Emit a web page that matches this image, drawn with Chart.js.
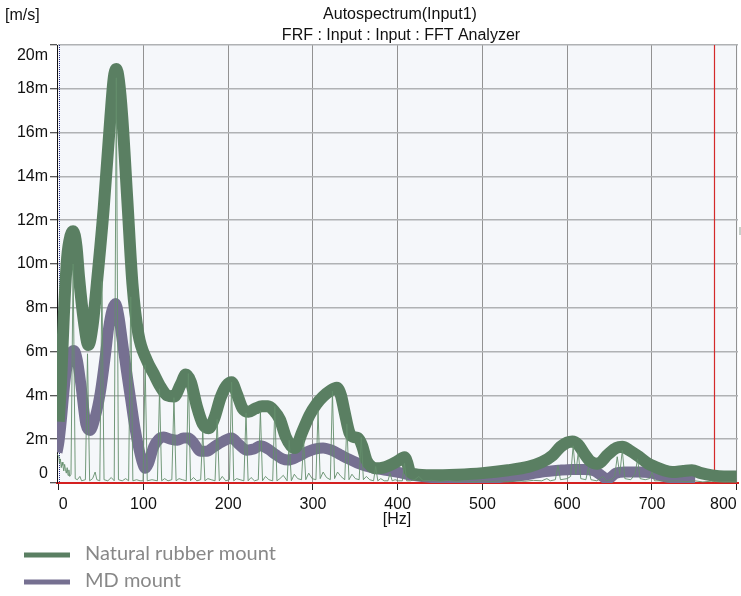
<!DOCTYPE html>
<html>
<head>
<meta charset="utf-8">
<script src="https://cdn.jsdelivr.net/npm/chart.js@4.4.1/dist/chart.umd.min.js"></script>
<style>
  html, body { margin: 0; padding: 0; background: #fff; }
  #chart { display: block; }
</style>
</head>
<body>
<canvas id="chart" width="741" height="596"></canvas>
<script>
// values: [Hz, m/s (milli)]
var naturalRubber = [
  [0,2.8],[3,4.8],[6,7.6],[10,10.3],[14,11.3],[17,11.5],[21,10.8],[24,9.4],[30,7.3],[35,6.3],
  [40,7.2],[45,9.1],[53,12.5],[61,16.7],[65,18.5],[68,18.9],[71,18.4],[75,16.7],[81,12.9],[87,9.1],
  [94,6.8],[104,5.6],[112,5.0],[120,4.4],[128,4.0],[136,3.95],[144,4.5],[150,4.95],[156,4.6],[163,3.5],
  [170,2.7],[177,2.5],[184,3.0],[191,3.9],[198,4.45],[204,4.6],[210,4.1],[217,3.4],[224,3.25],[232,3.4],
  [240,3.5],[247,3.5],[254,3.3],[261,2.9],[268,2.1],[274,1.7],[279,1.6],[287,2.3],[296,3.1],[304,3.6],
  [312,3.95],[320,4.2],[328,4.35],[333,4.0],[337,3.3],[343,2.3],[348,2.1],[353,2.05],[358,1.7],[363,1.05],
  [369,0.75],[375,0.67],[383,0.7],[390,0.8],[400,1.0],[408,1.18],[411,0.95],[414,0.55],[420,0.4],[440,0.35],
  [470,0.38],[500,0.45],[530,0.58],[555,0.75],[570,0.95],[583,1.27],[592,1.65],[600,1.85],[606,1.9],[613,1.75],
  [620,1.35],[627,1.0],[636,0.88],[648,1.3],[658,1.6],[665,1.65],[673,1.5],[685,1.19],[695,0.9],[704,0.73],
  [714,0.58],[724,0.5],[737,0.55],[747,0.58],[758,0.45],[771,0.35],[785,0.3],[800,0.3]
];

var mdMount = [
  [-2,1.4],[0,1.8],[2.4,2.6],[8,4.85],[13,5.8],[18,6.05],[22,5.6],[26,4.55],[32,2.7],[37,2.4],
  [43,3.0],[49,4.1],[55,5.8],[59,7.1],[63,7.9],[67,8.2],[71,7.6],[75,6.5],[80,5.1],[85,3.8],
  [90,2.5],[95,1.5],[99,0.9],[102,0.67],[106,0.9],[112,1.65],[118,2.0],[124,2.1],[132,2.0],[140,1.95],
  [147,2.05],[153,2.05],[160,1.8],[167,1.45],[175,1.45],[183,1.65],[194,1.9],[204,2.05],[213,1.75],[222,1.5],
  [230,1.55],[238,1.7],[247,1.55],[256,1.3],[264,1.1],[271,1.05],[282,1.2],[292,1.4],[302,1.55],[312,1.6],
  [322,1.5],[332,1.3],[342,1.1],[352,0.92],[362,0.78],[380,0.62],[399,0.5],[418,0.35],[440,0.25],[480,0.2],
  [530,0.28],[555,0.4],[570,0.5],[590,0.58],[606,0.62],[620,0.62],[632,0.55],[640,0.35],[647,0.17],[652,0.28],
  [657,0.44],[668,0.5],[685,0.5],[697,0.48],[716,0.28],[735,0.22],[751,0.2]
];

var rawSpectrum = [
  [-2,1.3],[0,1.25],[1,0.9],[2,1.1],[3,0.7],[4,0.95],[5,0.8],[6,0.55],[7,0.85],[8,0.6],[9,0.45],[10,0.7],
  [11,0.35],[12,0.6],[13,0.3],[14.5,0.4],[17,10.0],[19.5,0.2],[22,0.15],[25,0.3],[27,0.1],[31.5,0.15],
  [34,5.9],[36.5,0.1],[40,0.2],[43,0.5],[45,0.15],[48.5,0.1],[51,9.2],[53.5,0.15],[58,0.1],[62,0.25],
  [65.5,0.1],[68,18.5],[70.5,0.15],[75,0.1],[79,0.2],[82.5,0.1],[85,8.5],[87.5,0.1],[92,0.15],[96,0.1],
  [99.5,0.1],[102,5.4],[104.5,0.1],[110,0.15],[116.5,0.1],[119,4.3],[121.5,0.1],[125,0.2],[129,0.1],
  [133.5,0.15],[136,3.9],[138.5,0.1],[142,0.2],[146,0.15],[150.5,0.1],[153,5.0],[155.5,0.1],[159,0.25],
  [163,0.1],[167.5,0.15],[170,2.4],[172.5,0.1],[176,0.2],[180,0.15],[184.5,0.1],[187,2.9],[189.5,0.1],
  [193,0.3],[197,0.1],[201.5,0.15],[204,4.6],[206.5,0.1],[210,0.2],[214,0.15],[218.5,0.1],[221,3.2],
  [223.5,0.1],[227,0.25],[231,0.1],[235.5,0.15],[238,3.3],[240.5,0.1],[244,0.3],[248,0.15],[252.5,0.1],
  [255,3.5],[257.5,0.1],[261,0.2],[265,0.35],[269.5,0.1],[272,1.95],[274.5,0.1],[278,0.4],[282,0.2],
  [286.5,0.15],[289,1.95],[291.5,0.15],[295,0.45],[299,0.2],[303.5,0.15],[306,3.3],[308.5,0.2],[312,0.5],
  [316,0.25],[320.5,0.15],[323,4.2],[325.5,0.2],[329,0.5],[333,0.3],[337.5,0.15],[340,2.7],[342.5,0.15],
  [346,0.4],[350,0.2],[354.5,0.15],[357,2.1],[359.5,0.15],[363,0.3],[367,0.15],[371.5,0.1],[374,0.75],
  [376.5,0.1],[380,0.2],[384,0.1],[388.5,0.1],[391,0.45],[393.5,0.1],[397,0.15],[401,0.1],[405.5,0.1],
  [408,0.9],[410.5,0.1],[415,0.1],[420,0.15],[425,0.3],[430,0.1],[440,0.12],[450,0.08],[460,0.12],
  [470,0.06],[480,0.1],[490,0.05],[500,0.1],[510,0.06],[520,0.1],[530,0.06],[540,0.1],[550,0.08],
  [560,0.12],[570,0.1],[576,0.2],[580,0.1],[586,0.15],[589,0.8],[592,0.15],[600,0.2],[604,0.3],[607,1.7],
  [610,0.4],[613,1.4],[616,0.2],[622,0.15],[625,0.7],[628,0.15],[635,0.1],[642,0.3],[646,0.1],[652,0.15],
  [656,0.3],[659,1.2],[662,0.4],[665,1.5],[668,0.2],[675,0.15],[680,0.4],[683,1.1],[686,0.2],[692,0.15],
  [697,0.2],[700,0.5],[703,0.1],[712,0.1],[720,0.08],[730,0.1],[740,0.06],[750,0.1],[760,0.05],
  [770,0.08],[780,0.05],[790,0.06],[800,0.05]
];

var xTicks = [0, 100, 200, 300, 400, 500, 600, 700, 800];
var yTicks = [0, 2, 4, 6, 8, 10, 12, 14, 16, 18, 20];
var seriesNames = ['Natural rubber mount', 'MD mount'];
var cursorHz = 773;

function pts(arr) {
  return arr.map(function(p) { return { x: p[0], y: p[1] }; });
}
function yLabel(v) { return v === 0 ? '0' : v + 'm'; }

var GREEN = '#5a7f62';
var PURPLE = '#767091';
var TICK_FONT = '16px "Liberation Sans", Arial, sans-serif';

var decor = {
  id: 'decor',
  beforeDraw: function(chart) {
    var ctx = chart.ctx, a = chart.chartArea;
    ctx.save();
    ctx.fillStyle = '#f5f7fa';
    ctx.fillRect(a.left, a.top, a.right - a.left, a.bottom - a.top);
    ctx.restore();
  },
  beforeDatasetsDraw: function(chart) {
    var ctx = chart.ctx, a = chart.chartArea, xs = chart.scales.x;
    ctx.save();
    // cursor line
    var cx = Math.round(xs.getPixelForValue(cursorHz)) + 0.5;
    ctx.strokeStyle = '#d42a2a';
    ctx.lineWidth = 1.2;
    ctx.beginPath(); ctx.moveTo(cx, a.top); ctx.lineTo(cx, a.bottom); ctx.stroke();
    // dotted zero line
    var zx = Math.round(xs.getPixelForValue(0)) + 0.5;
    ctx.strokeStyle = '#2a2f8a';
    ctx.lineWidth = 1;
    ctx.setLineDash([1, 1]);
    ctx.beginPath(); ctx.moveTo(zx, a.top); ctx.lineTo(zx, a.bottom); ctx.stroke();
    ctx.restore();
  },
  afterDraw: function(chart) {
    var ctx = chart.ctx, a = chart.chartArea;
    ctx.save();
    ctx.fillStyle = '#111';
    ctx.font = TICK_FONT;
    ctx.textBaseline = 'alphabetic';
    // end labels of the y axis sit inside the axis range
    ctx.textAlign = 'right';
    var lx = a.left - 7 - 2;
    ctx.fillText(yLabel(yTicks[yTicks.length - 1]), lx, a.top + 15);
    ctx.fillText(yLabel(yTicks[0]), lx, a.bottom - 5);

    ctx.textAlign = 'left';
    ctx.fillText('[m/s]', 5, 20);
    ctx.textAlign = 'center';
    ctx.fillText('Autospectrum(Input1)', 400, 19);
    ctx.fillText('FRF : Input : Input : FFT Analyzer', 401, 40);
    ctx.fillText('[Hz]', 397, 524);

    // legend
    var colors = [GREEN, PURPLE];
    var ys = [555, 582];
    ctx.textAlign = 'left';
    ctx.font = '20px Lato, "Noto Sans", sans-serif';
    for (var i = 0; i < seriesNames.length; i++) {
      ctx.strokeStyle = colors[i];
      ctx.lineWidth = 5;
      ctx.beginPath(); ctx.moveTo(24, ys[i]); ctx.lineTo(70, ys[i]); ctx.stroke();
      ctx.fillStyle = '#888888';
      ctx.fillText(seriesNames[i], 85, ys[i] + 5);
    }
    // scroll marker at the right edge
    ctx.fillStyle = '#c8d0ca';
    ctx.fillRect(739, 227, 2, 8);
    ctx.restore();
  }
};

new Chart(document.getElementById('chart'), {
  type: 'line',
  data: {
    datasets: [
      {
        label: 'Autospectrum',
        data: pts(rawSpectrum),
        borderColor: 'rgba(100,142,108,0.9)',
        borderWidth: 1,
        pointRadius: 0,
        tension: 0
      },
      {
        label: seriesNames[0],
        data: pts(naturalRubber),
        borderColor: GREEN,
        borderWidth: 12,
        borderCapStyle: 'butt',
        borderJoinStyle: 'round',
        pointRadius: 0,
        cubicInterpolationMode: 'monotone'
      },
      {
        label: seriesNames[1],
        data: pts(mdMount),
        borderColor: PURPLE,
        borderWidth: 11,
        borderCapStyle: 'butt',
        borderJoinStyle: 'round',
        pointRadius: 0,
        cubicInterpolationMode: 'monotone'
      }
    ]
  },
  options: {
    responsive: false,
    animation: false,
    devicePixelRatio: 1,
    layout: { padding: { top: 45, right: 3, bottom: 73, left: 0 } },
    plugins: {
      legend: { display: false },
      tooltip: { enabled: false },
      title: { display: false }
    },
    scales: {
      x: {
        type: 'linear',
        min: -2,
        max: 801.5,
        afterBuildTicks: function(s) { s.ticks = xTicks.map(function(v) { return { value: v }; }); },
        afterFit: function(s) { s.height = 40; s.paddingLeft = 0; s.paddingRight = 0; },
        ticks: {
          autoSkip: false,
          maxRotation: 0,
          align: 'inner',
          padding: 5,
          color: '#111',
          font: { family: '"Liberation Sans", Arial, sans-serif', size: 16 }
        },
        grid: {
          color: function(c) { return c.tick && c.tick.value === 0 ? 'rgba(0,0,0,0)' : '#929292'; },
          lineWidth: 1,
          tickLength: 7,
          tickColor: '#222',
          tickWidth: 1
        },
        border: { color: '#d42020', width: 2 }
      },
      y: {
        min: 0,
        max: 20,
        afterBuildTicks: function(s) { s.ticks = yTicks.map(function(v) { return { value: v }; }); },
        afterFit: function(s) { s.width = 57; s.paddingTop = 0; s.paddingBottom = 0; },
        ticks: {
          padding: 2,
          color: '#111',
          font: { family: '"Liberation Sans", Arial, sans-serif', size: 16 },
          // first and last labels are drawn by the plugin, shifted inwards
          callback: function(v) { return (v === yTicks[0] || v === yTicks[yTicks.length - 1]) ? '' : yLabel(v); }
        },
        grid: {
          color: '#b0b2b4',
          lineWidth: 1.5,
          tickLength: 7,
          tickColor: '#222',
          tickWidth: 1
        },
        border: { color: '#111', width: 1 }
      }
    }
  },
  plugins: [decor]
});
</script>
</body>
</html>
